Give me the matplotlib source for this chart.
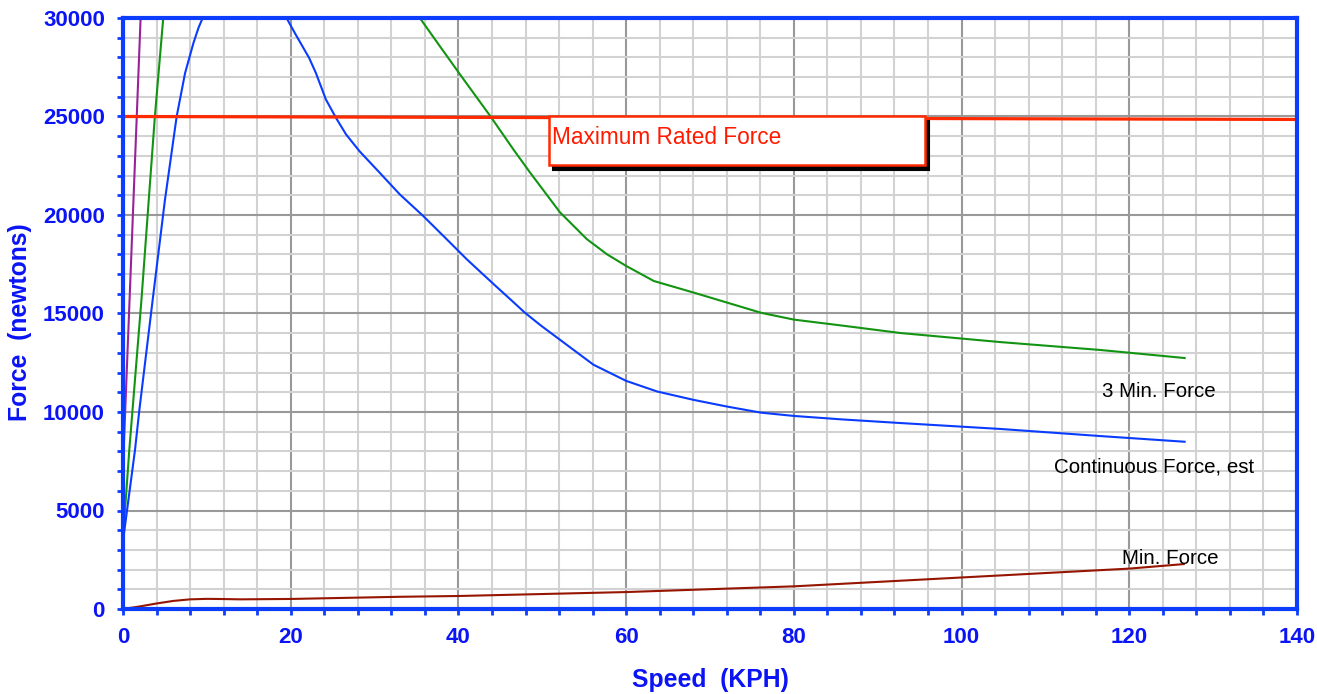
import numpy as np
import matplotlib
matplotlib.use('Agg')
import matplotlib.pyplot as plt
import matplotlib.patches as patches
import matplotlib.transforms as mtransforms
from matplotlib.ticker import MultipleLocator

plt.rcParams['font.family'] = ['Liberation Sans', 'DejaVu Sans']

# --- data (speed in KPH, force in newtons) ---
purple_x = [0, 2.1]
purple_y = [7200, 30000]

# 3 minute force
green_x = [0, 0.75, 2.2, 3.8, 4.8, np.nan,
           35.4, 37.8, 40.2, 43.8, 46.6, 48.5, 52.1, 55.3, 57.7, 60, 63.3, 68.1,
           72.1, 76.1, 80, 85.7, 92.7, 104.6, 116.5, 126.6]
green_y = [3600, 8070, 15700, 25000, 30000, np.nan,
           30000, 28560, 27130, 25020, 23300, 22180, 20140, 18780, 18010, 17415,
           16650, 16055, 15545, 15035, 14690, 14390, 14010, 13550, 13150, 12740]

# continuous force, est
blue_x = [0, 0.12, 1.43, 1.95, 3.54, 5.0, 6.4, 7.4, 8.4, 9.0, 9.5, np.nan,
          19.5, 20.6, 22.2, 23.0, 24.2, 25.4, 26.6, 28.2, 30.6, 33.0, 35.8, 38.6, 41.0,
          44.2, 46.6, 47.9, 49.8, 52.1, 56.1, 60, 63.7, 68.1, 72.1, 76.1, 80, 85.7,
          92.7, 104.6, 116.5, 126.6]
blue_y = [3300, 3840, 8070, 10100, 15700, 20760, 25000, 27200, 28730, 29500, 30000, np.nan,
          30000, 29155, 27970, 27210, 25860, 24930, 24090, 23240, 22150, 21050, 19950,
          18770, 17750, 16490, 15560, 15050, 14400, 13670, 12400, 11580, 11040, 10610,
          10270, 9966, 9800, 9625, 9440, 9140, 8780, 8490]

# min force
brown_x = [0, 2, 4, 6, 8, 10, 12, 14, 20, 33, 40, 60, 80, 100, 120, 126.5]
brown_y = [0, 130, 280, 410, 490, 515, 505, 490, 510, 620, 660, 860, 1150, 1600, 2050, 2280]

# maximum rated force
red_x = [0, 140]
red_y = [25000, 24850]

label_text = ['3 Min. Force', 'Continuous Force, est', 'Min. Force']
label_x = [123.5, 122.9, 124.9]
label_y = [11030, 7223, 2574]

box_x = [50.8, 95.6]
box_y = [22540, 25025]

axis_blue = '#0d3dfc'
text_blue = '#0a14f5'

fig = plt.figure(figsize=(13.17, 6.94), dpi=100)
ax = fig.add_axes([123 / 1317, 1 - 609 / 694, 1174 / 1317, 591 / 694])

ax.plot(purple_x, purple_y, color='#992299', lw=1.5, zorder=3)
ax.plot(green_x, green_y, color='#129412', lw=1.5, zorder=3)
ax.plot(blue_x, blue_y, color='#0a3cff', lw=1.5, zorder=3)
ax.plot(brown_x, brown_y, color='#951500', lw=1.5, zorder=3)
ax.plot(red_x, red_y, color='#ff2a00', lw=2.3, zorder=3)

for t, x, y in zip(label_text, label_x, label_y):
    ax.text(x, y, t, fontsize=14.8, ha='center', va='center', color='black', zorder=4)

# label box with drop shadow
shadow_tr = mtransforms.offset_copy(ax.transData, fig=fig, x=4, y=-5, units='dots')
ax.add_patch(patches.Rectangle((box_x[0], box_y[0]), box_x[1] - box_x[0], box_y[1] - box_y[0],
                               facecolor='black', edgecolor='black', lw=1.5,
                               transform=shadow_tr, zorder=5))
ax.add_patch(patches.Rectangle((box_x[0], box_y[0]), box_x[1] - box_x[0], box_y[1] - box_y[0],
                               facecolor='white', edgecolor='#ff2a00', lw=1.8, zorder=6))
ax.text(box_x[0] + 0.3, box_y[1] - 520, 'Maximum Rated Force', fontsize=16.3, color='#ff1a00',
        ha='left', va='top', zorder=7)

ax.set_xlim(0, 140)
ax.set_ylim(0, 30000)
ax.xaxis.set_major_locator(MultipleLocator(20))
ax.xaxis.set_minor_locator(MultipleLocator(4))
ax.yaxis.set_major_locator(MultipleLocator(5000))
ax.yaxis.set_minor_locator(MultipleLocator(1000))

ax.grid(which='minor', color='#d2d2d2', lw=1.5, zorder=0)
ax.grid(which='major', color='#999999', lw=1.5, zorder=1)
ax.set_axisbelow(True)

for s in ax.spines.values():
    s.set_color(axis_blue)
    s.set_linewidth(3)
    s.set_zorder(8)

ax.tick_params(which='both', direction='out', color=axis_blue, length=4, width=2)
ax.tick_params(which='major', labelsize=16, labelcolor=text_blue, pad=9)
for lab in ax.get_xticklabels() + ax.get_yticklabels():
    lab.set_fontweight('bold')

ax.set_xlabel('Speed  (KPH)', fontsize=17.8, fontweight='bold', color=text_blue, va='center')
ax.xaxis.set_label_coords(0.5, -0.12)
ax.set_ylabel('Force  (newtons)', fontsize=17.8, fontweight='bold', color=text_blue, va='center')
ax.yaxis.set_label_coords(-0.0877, 0.485)

fig.savefig('out.png', dpi=100)
